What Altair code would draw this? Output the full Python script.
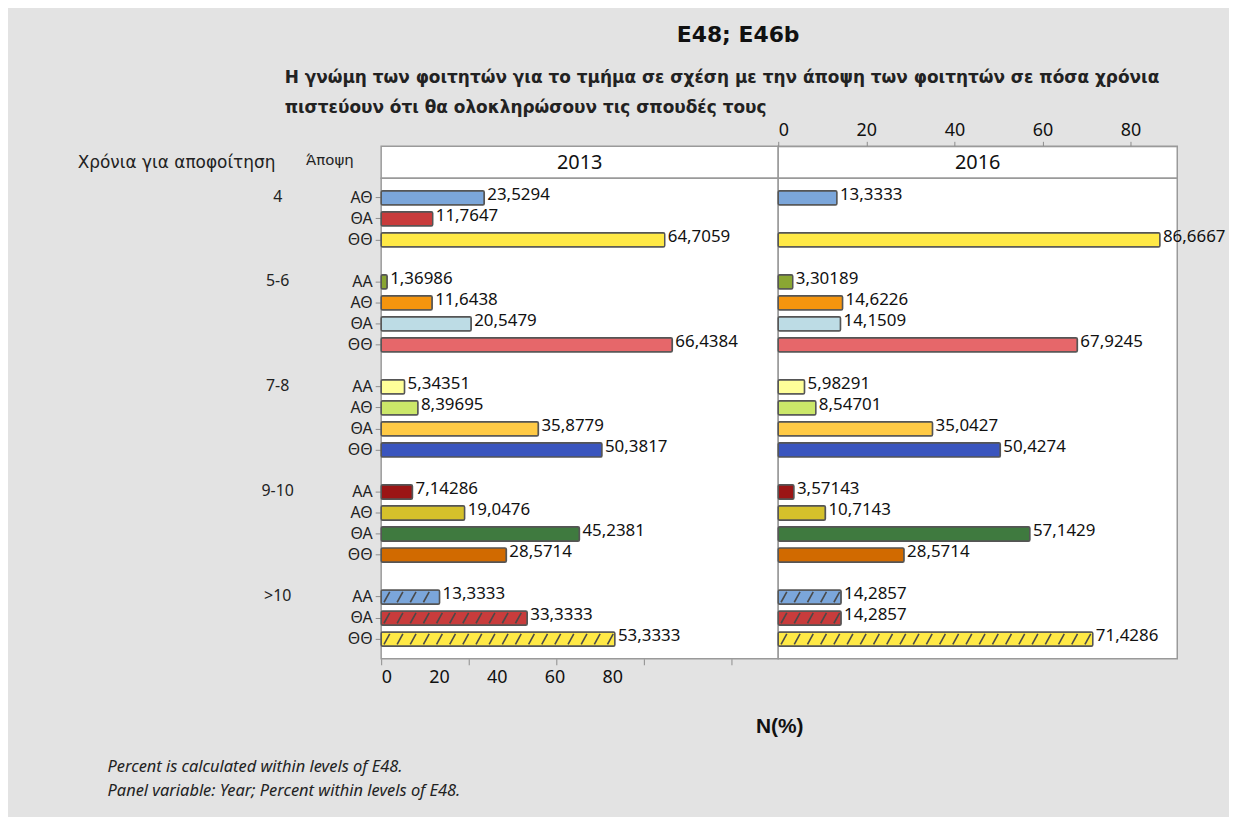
import altair as alt
import pandas as pd

title_main = "E48; E46b"
subtitle_lines = [
    "Η γνώμη των φοιτητών για το τμήμα σε σχέση με την άποψη των φοιτητών σε πόσα χρόνια",
    "πιστεύουν ότι θα ολοκληρώσουν τις σπουδές τους",
]
footer_lines = [
    "Percent is calculated within levels of E48.",
    "Panel variable: Year;  Percent within levels of E48.",
]
row_header = "Χρόνια για αποφοίτηση"
col_header = "Άποψη"
x_title = "N(%)"
years = ["2013", "2016"]
groups = ["4", "5-6", "7-8", "9-10", ">10"]
opinions = [
    ["ΑΘ", "ΘΑ", "ΘΘ"],
    ["ΑΑ", "ΑΘ", "ΘΑ", "ΘΘ"],
    ["ΑΑ", "ΑΘ", "ΘΑ", "ΘΘ"],
    ["ΑΑ", "ΑΘ", "ΘΑ", "ΘΘ"],
    ["ΑΑ", "ΘΑ", "ΘΘ"],
]
values_2013 = [23.5294, 11.7647, 64.7059,
               1.36986, 11.6438, 20.5479, 66.4384,
               5.34351, 8.39695, 35.8779, 50.3817,
               7.14286, 19.0476, 45.2381, 28.5714,
               13.3333, 33.3333, 53.3333]
values_2016 = [13.3333, None, 86.6667,
               3.30189, 14.6226, 14.1509, 67.9245,
               5.98291, 8.54701, 35.0427, 50.4274,
               3.57143, 10.7143, 57.1429, 28.5714,
               14.2857, 14.2857, 71.4286]
bar_colors = ["#7BA6DA", "#C83C3C", "#FFE946",
              "#8AA633", "#F5950E", "#BDDCE5", "#E6676A",
              "#FFFF99", "#CBE769", "#FFCA45", "#3A55BE",
              "#9B1515", "#D5C12B", "#3F7A3F", "#D16A00",
              "#7BA6DA", "#C83C3C", "#FFE946"]
hatched_group = ">10"
x_ticks = [0, 20, 40, 60, 80]

# ---- build tables ----
rows, domain, keys, first_keys = [], [], [], []
i = 0
for gi, (g, ops) in enumerate(zip(groups, opinions)):
    if gi > 0:
        domain.append(f"~{gi}")
    for j, o in enumerate(ops):
        k = f"{g}|{o}"
        domain.append(k)
        keys.append(k)
        if j == 0:
            first_keys.append(k)
        for yr, vals in zip(years, [values_2013, values_2016]):
            rows.append(dict(year=yr, group=g, opinion=o, key=k, value=vals[i]))
        i += 1
df = pd.DataFrame(rows)
group_df = pd.DataFrame({"group": groups, "key": first_keys})

PW1, PW2, PH, HH, LW = 399, 401, 483, 32, 305
FONT = "Noto Sans"
GRID = "#9a9a9a"

yscale = alt.Scale(type="band", domain=domain, paddingInner=0.32, paddingOuter=0.6)
xscale = alt.Scale(domain=[0, 90.6], nice=False, zero=True)
cscale = alt.Scale(domain=keys, range=bar_colors)

y_axis_left = alt.Axis(
    labelExpr="indexof(datum.value, '|') >= 0 ? split(datum.value, '|')[1] : ''",
    tickColor={"condition": {"test": "indexof(datum.value, '|') < 0", "value": "transparent"},
               "value": "#8c8c8c"},
    tickSize=6, domain=False, labelPadding=3, labelFontSize=16, labelFont=FONT,
    labelColor="#222222", title=col_header, titleAngle=0, titleX=-76, titleY=-19,
    titleAlign="left", titleBaseline="middle", titleFontWeight="normal",
    titleFontSize=15, titleFont="DejaVu Sans", titleColor="#222222",
)
x_axis_bottom = alt.Axis(
    values=x_ticks, orient="bottom", tickSize=6, tickColor="#8c8c8c", domain=False,
    grid=False, labelFontSize=18, labelFont=FONT, labelPadding=4, labelColor="#111111",
    labelOffset={"expr": "-1.5 * datum.value"},
    title=x_title, titleX=400, titleY=68, titleFontSize=21, titleFont="Liberation Sans",
    titleFontWeight="bold", titleBaseline="middle", titleAlign="center", titleColor="#111111",
)
x_axis_top = alt.Axis(
    values=x_ticks, orient="top", offset=HH, tickSize=5, tickColor="#8c8c8c",
    domain=True, domainColor=GRID, grid=False, labelFontSize=18, labelFont=FONT,
    labelPadding=2, labelColor="#111111", title="",
)


def panel(year, width, x_axis, y_axis):
    base = alt.Chart(df).transform_filter(
        f"datum.year == '{year}' && isValid(datum.value)")
    y_enc = alt.Y("key:N", scale=yscale, axis=y_axis, title=col_header) if y_axis is not None \
        else alt.Y("key:N", scale=yscale, axis=None)
    title = x_title if year == years[0] else ""
    bars = base.mark_bar(stroke="#555555", strokeWidth=1.5, cornerRadius=1.5).encode(
        x=alt.X("value:Q", scale=xscale, axis=x_axis, title=title),
        y=y_enc,
        color=alt.Color("key:N", scale=cscale, legend=None),
    )
    hatch = base.transform_filter(f"datum.group == '{hatched_group}'").transform_calculate(
        hx="sequence(1.3, datum.value - 0.8, 3)"
    ).transform_flatten(["hx"]).mark_point(
        shape="M -0.55 1 L 0.55 -1", filled=False, strokeWidth=1.6,
        color="#4a4a4a", opacity=1, size=110,
    ).encode(
        x=alt.X("hx:Q", scale=xscale, axis=x_axis, title=title),
        y=y_enc,
    )
    labels = base.transform_calculate(
        label="replace(toString(datum.value), '.', ',')"
    ).mark_text(align="left", baseline="middle", dx=3, dy=-3, fontSize=17,
                font=FONT, color="#111111").encode(
        x=alt.X("value:Q", scale=xscale, axis=x_axis, title=title),
        y=y_enc,
        text="label:N",
    )
    return alt.layer(bars, hatch, labels).properties(
        width=width, height=PH,
        view=alt.ViewBackground(fill="white", stroke=GRID, strokeWidth=1.5),
    )


p13 = panel(years[0], PW1, x_axis_bottom, y_axis_left)
p16 = panel(years[1], PW2, x_axis_top, None)


def header(year, width):
    return alt.Chart(pd.DataFrame({"year": [year]})).mark_text(
        fontSize=20, font=FONT, color="#111111", baseline="middle", align="center"
    ).encode(
        text="year:N", x=alt.value(width / 2), y=alt.value(HH / 2 + 1)
    ).properties(width=width, height=HH,
                 view=alt.ViewBackground(fill="white", stroke=GRID, strokeWidth=1.5))


h13 = header(years[0], PW1)
h16 = header(years[1], PW2)

corner = alt.Chart(pd.DataFrame({"t": [row_header]})).mark_text(
    align="left", baseline="middle", fontSize=17, font="DejaVu Sans", color="#222222"
).encode(text="t:N", x=alt.value(0), y=alt.value(HH / 2 + 1)).properties(
    width=LW, height=HH, view=alt.ViewBackground(strokeWidth=0))

group_labels = alt.Chart(group_df).mark_text(
    align="center", baseline="middle", fontSize=16, font=FONT, color="#222222", dy=-1
).encode(
    y=alt.Y("key:N", scale=yscale, axis=None),
    x=alt.value(201),
    text="group:N",
).properties(width=LW, height=PH, view=alt.ViewBackground(strokeWidth=0))

grid = alt.concat(
    corner, h13, h16, group_labels, p13, p16,
    columns=3, spacing=0, bounds="flush",
).properties(
    title=alt.TitleParams(
        text=subtitle_lines, anchor="start", dx=208, font="DejaVu Sans", fontSize=17,
        fontWeight="bold", lineHeight=30, color="#222222", offset=4,
    )
)

footer = alt.Chart(pd.DataFrame({"line": footer_lines, "idx": [0, 1]})).mark_text(
    align="left", baseline="middle", fontSize=16.5, font=FONT, fontStyle="italic",
    color="#222222",
).encode(
    y=alt.Y("idx:O", axis=None, scale=alt.Scale(paddingOuter=0.5)),
    x=alt.value(30),
    text="line:N",
).properties(width=500, height=48, view=alt.ViewBackground(strokeWidth=0))

chart = alt.vconcat(grid, footer, spacing=18).properties(
    title=alt.TitleParams(
        text=title_main, anchor="start", dx=602, font="DejaVu Sans", fontSize=22,
        fontWeight="bold", color="#111111", offset=22,
    ),
    padding={"left": 70, "top": 14, "right": 2, "bottom": 12},
    background="#e3e3e3",
)

chart.save("out.html", embed_options={"renderer": "svg", "actions": False})
